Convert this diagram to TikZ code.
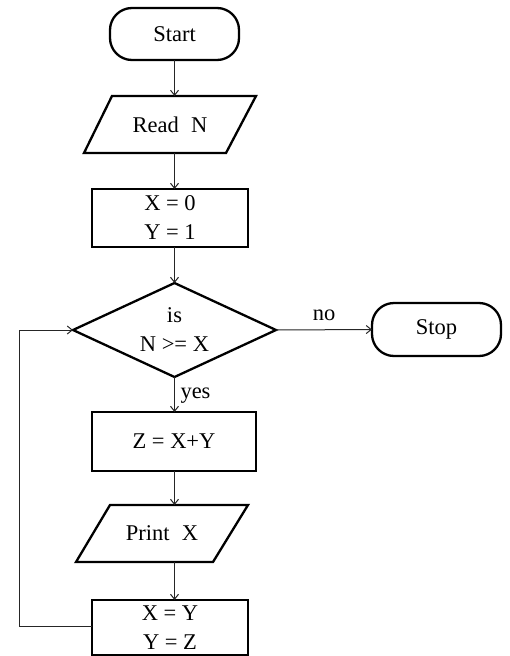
\documentclass[tikz,border=0pt]{standalone}
\usepackage{fontspec}
\setmainfont{Liberation Serif}
\usetikzlibrary{arrows.meta}
\begin{document}
\begin{tikzpicture}[x=1pt,y=-1pt,
  font=\fontsize{22.5}{29}\selectfont,
  every node/.style={inner sep=0pt, outer sep=0pt, align=center},
  shapeline/.style={draw=black, line width=2.3pt},
  term/.style={shapeline, rounded corners=22pt, minimum width=129pt, minimum height=52pt},
  procbox/.style={shapeline, minimum height=57pt},
  holder/.style={minimum height=57pt},
  conn/.style={draw=black!85, line width=1pt, -{Straight Barb[length=5pt,width=8pt,line width=1pt]}},
  lbl/.style={font=\fontsize{22.5}{26}\selectfont}
]
\useasboundingbox (0,0) rectangle (510,656);

% nodes
\node[term] (start) at (174.5,34) {Start};
\node[holder, minimum width=172pt] (read) at (170,124.5) {Read\hspace{0.55em}N};
\draw[shapeline] ([xshift=28pt]read.north west) -- (read.north east)
  -- ([xshift=-30pt]read.south east) -- (read.south west) -- cycle;
\node[procbox, minimum width=156pt, minimum height=58pt] (init) at (170,218) {X = 0\\Y = 1};
\node[minimum width=203pt, minimum height=94pt] (dec) at (174.5,330) {is\\N >= X};
\draw[shapeline] (dec.north) -- (dec.east) -- (dec.south) -- (dec.west) -- cycle;
\node[term, minimum height=53pt] (stop) at (436.5,329.5) {Stop};
\node[procbox, minimum width=164pt, minimum height=59pt] (zbox) at (174,441.5) {Z = X+Y};
\node[holder, minimum width=172pt] (print) at (162,533.5) {Print\hspace{0.55em}X};
\draw[shapeline] ([xshift=34pt]print.north west) -- (print.north east)
  -- ([xshift=-35pt]print.south east) -- (print.south west) -- cycle;
\node[procbox, minimum width=156pt, minimum height=55pt] (last) at (170,627.5) {X = Y\\Y = Z};
\coordinate (loopx) at (19,0);

% connectors
\draw[conn] (start.south) -- (start.south |- read.north);
\draw[conn] (read.north -| start.south) ++(0,57) -- (start.south |- init.north);
\draw[conn] (init.south -| start.south) -- (dec.north);
\draw[conn] (dec.east) -- node[lbl, above=9pt] (nolbl) {no} (stop.west);
\draw[conn] (dec.south) -- node[lbl, right=6pt, yshift=-1pt] (yeslbl) {yes} (dec.south |- zbox.north);
\draw[conn] (zbox.south -| dec.south) -- (dec.south |- print.north);
\draw[conn] (print.south -| dec.south) -- (dec.south |- last.north);
\draw[conn] ([yshift=1.5pt]last.west) -- ([yshift=1.5pt]last.west -| loopx) |- (dec.west);
\end{tikzpicture}
\end{document}
